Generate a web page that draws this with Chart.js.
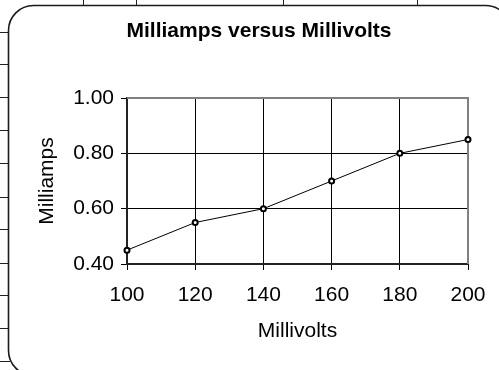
<!DOCTYPE html>
<html>
<head>
<meta charset="utf-8">
<script src="https://cdn.jsdelivr.net/npm/chart.js@4"></script>
<style>
  body { margin: 0; background: #fff; }
  canvas { display: block; }
</style>
</head>
<body>
<canvas id="grafico" width="499" height="370"></canvas>
<script>
const millivolts = [100, 120, 140, 160, 180, 200];
const milliamps = [0.45, 0.55, 0.6, 0.7, 0.8, 0.85];

const chartTitle = "Milliamps versus Millivolts";
const xTitle = "Millivolts";
const yTitle = "Milliamps";

Chart.defaults.font.family = "Arial, 'Liberation Sans', sans-serif";

// worksheet cell borders peeking out around the chart object
const rowLines = [32, 64, 97, 130, 163, 197, 229, 263, 295, 328, 361];
const columnLines = [83, 136, 283, 417];

function roundedBox(ctx, x, y, w, h, r) {
  ctx.beginPath();
  ctx.moveTo(x + r, y);
  ctx.arcTo(x + w, y, x + w, y + h, r);
  ctx.arcTo(x + w, y + h, x, y + h, r);
  ctx.arcTo(x, y + h, x, y, r);
  ctx.arcTo(x, y, x + w, y, r);
  ctx.closePath();
}

const sheetBackground = {
  id: "sheetBackground",
  beforeDraw(chart) {
    const ctx = chart.ctx;
    ctx.save();
    ctx.fillStyle = "#fff";
    ctx.fillRect(0, 0, chart.width, chart.height);

    ctx.strokeStyle = "#222";
    ctx.lineWidth = 1;
    ctx.beginPath();
    rowLines.forEach((y) => {
      ctx.moveTo(0, y + 0.5);
      ctx.lineTo(10, y + 0.5);
    });
    columnLines.forEach((x) => {
      ctx.moveTo(x + 0.5, 0);
      ctx.lineTo(x + 0.5, 7);
    });
    ctx.stroke();

    roundedBox(ctx, 8.5, 5.5, 502, 370, 25);
    ctx.fillStyle = "#fff";
    ctx.fill();
    ctx.lineWidth = 1.6;
    ctx.strokeStyle = "#1a1a1a";
    ctx.stroke();

    ctx.fillStyle = "#000";
    ctx.font = "bold 21px Arial, 'Liberation Sans', sans-serif";
    ctx.textAlign = "center";
    ctx.textBaseline = "middle";
    ctx.fillText(chartTitle, 259, 31);
    ctx.restore();
  },
  beforeDatasetsDraw(chart) {
    const { ctx, chartArea } = chart;
    ctx.save();
    ctx.strokeStyle = "#808080";
    ctx.lineWidth = 2;
    ctx.beginPath();
    ctx.moveTo(chartArea.left, chartArea.top);
    ctx.lineTo(chartArea.right, chartArea.top);
    ctx.lineTo(chartArea.right, chartArea.bottom);
    ctx.stroke();
    ctx.restore();
  },
};

const points = millivolts.map((mv, i) => ({ x: mv, y: milliamps[i] }));

new Chart(document.getElementById("grafico"), {
  type: "line",
  data: {
    datasets: [
      {
        data: points,
        borderColor: "#000",
        borderWidth: 1,
        tension: 0,
        pointRadius: 2.5,
        pointBorderWidth: 2,
        pointBackgroundColor: "#fff",
        pointBorderColor: "#000",
        clip: false,
      },
    ],
  },
  options: {
    responsive: false,
    animation: false,
    layout: { padding: { top: 98, right: 31, bottom: 0, left: 0 } },
    plugins: {
      legend: { display: false },
      title: { display: false },
      tooltip: { enabled: false },
    },
    scales: {
      x: {
        type: "linear",
        min: 100,
        max: 200,
        ticks: { stepSize: 20, color: "#000", font: { size: 21 }, padding: 12.5, maxRotation: 0 },
        grid: { color: "#000", tickLength: 6 },
        border: { color: "#222", width: 2 },
        title: { display: true, text: xTitle, color: "#000", font: { size: 21 }, padding: { bottom: 26.4 } },
        afterFit: (scale) => {
          scale.height = 106;
        },
      },
      y: {
        min: 0.4,
        max: 1.0,
        ticks: {
          stepSize: 0.2,
          color: "#000",
          font: { size: 21 },
          padding: 7,
          callback: (value) => value.toFixed(2),
        },
        grid: { color: "#000", tickLength: 6 },
        border: { color: "#222", width: 2 },
        title: { display: true, text: yTitle, color: "#000", font: { size: 21 }, padding: { top: 35 } },
        afterFit: (scale) => {
          scale.width = 127;
        },
      },
    },
  },
  plugins: [sheetBackground],
});
</script>
</body>
</html>
